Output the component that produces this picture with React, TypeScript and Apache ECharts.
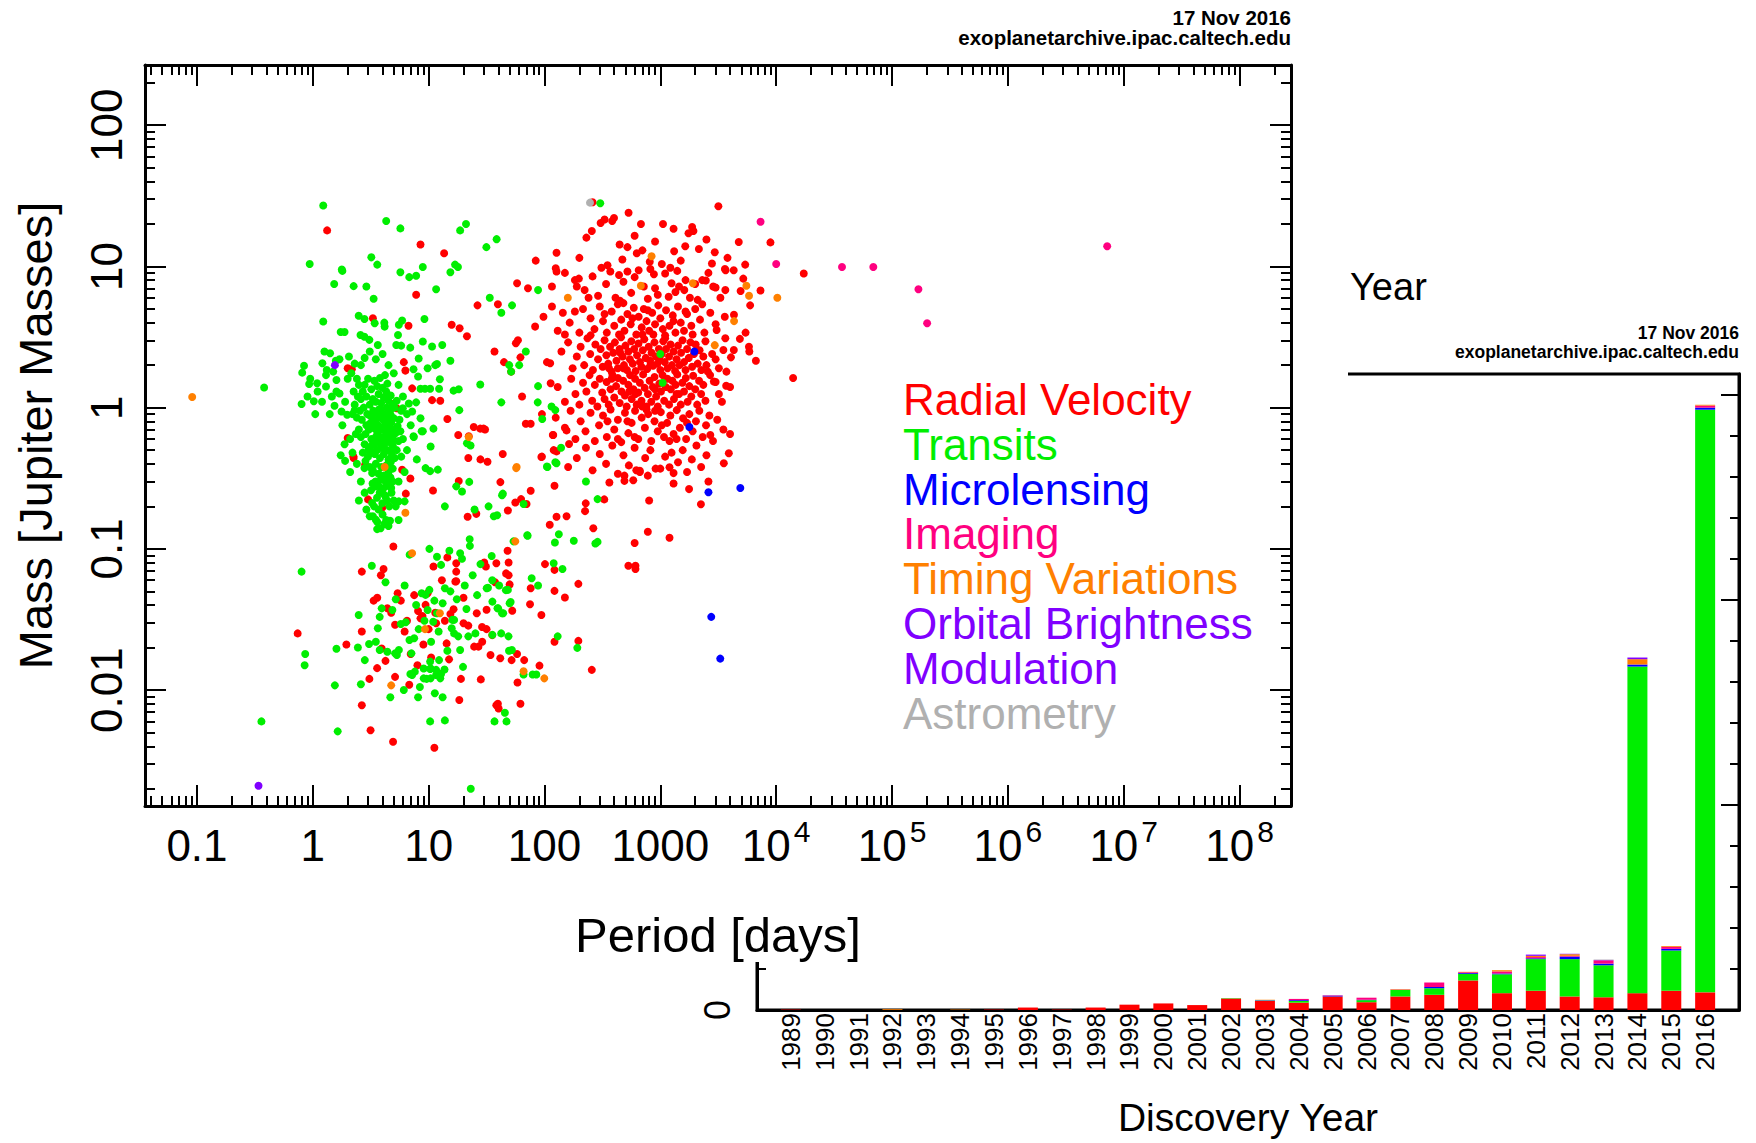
import React, { useEffect, useRef } from "react";
import * as echarts from "echarts";

const FONT = "'Liberation Sans', Arial, sans-serif";

// ---------- colours / method names ----------
const methods = [
  "Radial Velocity",
  "Transits",
  "Microlensing",
  "Imaging",
  "Timing Variations",
  "Orbital Brightness Modulation",
  "Astrometry",
];
const methodColors = ["#ff0000", "#00ee00", "#0000ff", "#ff0080", "#ff8000", "#8000ff", "#b0b0b0"];

// ---------- scatter axes ----------
const xMajorTicks = [0.1, 1, 10, 100, 1000, 1e4, 1e5, 1e6, 1e7, 1e8];
const xTickLabels = ["0.1", "1", "10", "100", "1000", "10^4", "10^5", "10^6", "10^7", "10^8"];
const yMajorTicks = [0.01, 0.1, 1, 10, 100];
const yTickLabels = ["0.01", "0.1", "1", "10", "100"];
const minorMultipliers = [2, 3, 4, 5, 6, 7, 8, 9];
const decades = [0.001, 0.01, 0.1, 1, 10, 100, 1e3, 1e4, 1e5, 1e6, 1e7, 1e8];
const xMin = 0.0356;
const xMax = 2.78e8;
const yMin = 0.00151;
const yMax = 267;

// ---------- scatter data: [period (days), mass (Jupiter masses)] ----------
const rvPoints: number[][] = [
  [260,28.5],[330,21.5],[384,21],[398,22],[532,24],[680,20],[1054,20],[1300,18.5],[1880,19],[1930,17.8],[3170,26.7],[305,20.3],[1750,17.2],[256,17.8],
  [84,11],[127,12.5],[445,14.3],[520,13.7],[626,12.4],[1316,12.8],[1640,13.9],[2150,13.3],[2950,12.6],[2790,10.5],[4750,14.9],[8920,14.8],[5400,10.3],[350,10.2],[810,10.8],[1030,10.4],[230,16],[600,16.5],[900,15],[2500,15.5],[470,11.2],[1500,11],[3800,11.5],[200,11.5],[700,13],
  [125,9.7],[127,9.2],[183,8.0],[198,8.2],[190,7.2],[116,7.2],[222,6.8],[58,7.6],[72,7.0],[370,9.2],[440,8.7],[520,9.2],[650,9.4],[1100,8.9],[1650,8.0],[1610,6.8],[1250,7.6],[1350,6.6],[2300,8.0],[2860,7.2],[3660,9.4],[3610,9.6],[4300,9.4],[7320,6.75],[4930,6.7],[3640,6.8],[3000,7.1],[2470,7.95],[290,6.2],[340,7.5],[410,6.0],[480,7.8],[560,6.5],[600,8.4],[720,7.2],[780,5.9],[880,8.8],[950,6.3],[1180,6.1],[1400,9.3],[1800,6.0],[2000,7.5],[2600,9.0],[3300,6.0],[5200,8.2],[150,9.0],[260,8.5],[310,9.8],[900,7.0],[1450,7.2],[2100,5.8],[17300,8.9],[450,5.7],[240,6.0],[820,9.6],[1220,9.8],
  [116,5.2],[144,4.7],[183,4.8],[83,3.75],[98,4.4],[130,3.5],[165,4.0],[200,3.4],[215,5.0],[250,4.3],[270,3.6],[300,5.2],[320,4.1],[345,3.4],[380,4.8],[400,3.8],[430,5.4],[460,4.2],[490,3.5],[520,4.6],[555,3.9],[590,5.1],[620,3.3],[650,4.4],[690,3.7],[720,5.0],[760,4.1],[800,3.5],[850,4.7],[900,3.9],[960,5.3],[1000,4.3],[1050,3.6],[1120,4.9],[1200,3.8],[1280,4.5],[1350,3.4],[1420,5.2],[1500,4.0],[1600,3.5],[1700,4.6],[1850,3.8],[2000,5.0],[2200,4.2],[2400,3.4],[2700,4.7],[3000,3.9],[4320,4.55],[5440,3.4],[5960,5.3],[3060,3.55],[4860,3.07],[3640,3.1],[440,3.3],[1100,3.25],[1900,3.3],[330,4.6],[575,4.3],[780,4.9],[1300,4.1],[2300,5.4],[3600,4.4],[480,5.5],[250,3.25],[150,3.3],[700,3.3],[1650,4.8],[870,3.3],
  [105,2.1],[112,2.06],[56.6,2.86],[59,3.0],[62,2.27],[37,2.5],[44.7,2.1],[51.5,1.8],
  [140,2.5],[160,2.9],[175,1.9],[190,2.3],[205,2.7],[220,2.0],[235,3.1],[248,2.4],[262,1.85],[275,2.8],[290,2.2],[305,2.6],[318,1.95],[330,3.0],[342,2.35],[355,2.05],[368,2.7],[380,1.8],[392,2.45],[405,2.9],[418,2.15],[430,1.9],[445,2.6],[458,3.15],[472,2.3],[485,2.0],[500,2.75],[515,1.85],[530,2.5],[546,2.2],[562,2.95],[578,2.05],[595,2.6],[612,1.82],[630,2.35],[648,2.85],[667,2.1],[686,1.95],[706,2.55],[727,3.05],[748,2.25],[770,1.88],[793,2.7],[816,2.15],[840,2.45],[865,1.98],[890,2.9],[916,2.3],[943,2.05],[971,2.6],[1000,1.85],[1030,2.4],[1060,2.95],[1090,2.1],[1120,2.6],[1155,1.9],[1190,2.3],[1225,2.8],[1260,2.0],[1300,2.5],[1340,1.82],[1380,2.2],[1420,2.75],[1465,2.0],[1510,2.45],[1555,3.0],[1600,2.1],[1650,1.85],[1700,2.6],[1760,2.25],[1820,2.9],[1880,1.95],[1950,2.4],[2020,2.8],[2100,2.05],[2180,2.55],[2260,1.85],[2350,2.3],[2450,2.95],[2570,1.8],[2800,2.4],[3000,2.2],[3200,1.9],[3500,2.56],[3720,1.8],[4070,2.27],[4310,2.56],[5820,2.7],[5860,2.5],[6680,2.15],[2500,2.0],[1100,3.1],[820,2.0],[450,2.45],[360,1.9],[980,2.2],
  [113,1.49],[64,1.2],[130,1.4],[150,1.1],[170,1.6],[185,1.25],[200,1.05],[215,1.5],[230,1.3],[245,1.7],[258,1.12],[272,1.45],[286,1.02],[300,1.6],[315,1.28],[330,1.15],[344,1.52],[358,1.05],[372,1.35],[386,1.7],[400,1.18],[415,1.42],[430,1.62],[446,1.08],[462,1.3],[478,1.55],[495,1.22],[512,1.02],[530,1.45],[548,1.7],[566,1.15],[585,1.35],[605,1.6],[625,1.05],[645,1.28],[666,1.5],[688,1.12],[710,1.72],[733,1.38],[757,1.02],[782,1.25],[808,1.55],[835,1.1],[862,1.4],[890,1.65],[920,1.2],[950,1.02],[980,1.48],[1012,1.3],[1045,1.7],[1080,1.12],[1115,1.4],[1150,1.6],[1190,1.05],[1230,1.35],[1270,1.55],[1310,1.15],[1355,1.45],[1400,1.72],[1450,1.25],[1500,1.05],[1550,1.5],[1600,1.3],[1660,1.62],[1720,1.1],[1780,1.42],[1850,1.2],[1920,1.68],[2000,1.35],[2080,1.05],[2160,1.55],[2250,1.25],[2350,1.45],[2450,1.12],[2690,1.7],[2900,1.53],[3000,1.52],[3700,1.43],[3200,1.25],[3400,1.1],[4000,1.4],[14000,1.62],[480,1.9],[700,1.02],[380,1.6],[610,1.25],[900,1.35],[1380,1.25],[540,1.3],
  [69,0.77],[76,0.77],[95,0.9],[118,0.64],[125,0.85],[150,0.72],[168,0.95],[185,0.6],[205,0.8],[226,0.68],[250,0.92],[272,0.58],[296,0.75],[320,0.88],[345,0.62],[372,0.97],[400,0.7],[430,0.82],[460,0.57],[495,0.92],[530,0.66],[565,0.78],[605,0.95],[645,0.6],[690,0.85],[735,0.72],[785,0.9],[835,0.58],[890,0.8],[950,0.68],[1010,0.93],[1075,0.62],[1145,0.78],[1220,0.88],[1300,0.65],[1385,0.96],[1475,0.72],[1570,0.84],[1670,0.6],[1780,0.9],[1900,0.68],[2030,0.8],[2170,0.95],[2320,0.62],[2480,0.75],[2650,0.88],[2850,0.58],[3100,0.82],[3500,0.7],[155,0.69],[1380,0.6],[1030,0.75],[760,0.97],[520,0.8],[2700,0.64],[900,0.95],[600,0.62],[1200,0.58],[430,0.6],[350,0.8],[1700,0.78],[4000,0.65],
  [95,0.45],[120,0.5],[127,0.49],[160,0.38],[190,0.44],[228,0.52],[260,0.36],[300,0.47],[340,0.4],[385,0.54],[430,0.34],[480,0.46],[535,0.39],[600,0.52],[665,0.35],[740,0.44],[820,0.5],[910,0.37],[1000,0.37],[1100,0.45],[1200,0.378],[1300,0.344],[1420,0.41],[1560,0.5],[1700,0.35],[1870,0.43],[2050,0.54],[2250,0.38],[2500,0.46],[3530,0.404],[3900,0.476],[665,0.357],[620,0.36],[490,0.33],[780,0.33],[1250,0.48],
  [122,0.28],[227,0.21],[224,0.185],[328,0.224],[363,0.295],[490,0.303],[584,0.306],[1770,0.265],[2240,0.207],[1300,0.29],[800,0.22],[2600,0.3],[70,0.208],[76,0.258],[56,0.213],[48.3,0.187],[62.8,0.225],[41.6,0.297],
  [111,0.148],[127,0.169],[155,0.17],[264,0.14],[780,0.132],[1200,0.12],[600,0.11],[21.7,0.169],[25.8,0.177],[530,0.076],[610,0.076],[610,0.072],
  [1.33,18],[8.5,14.3],[13.6,12.4],[7.8,6.3],[26.4,5.3],[39.6,5.4],[3.3,4.3],[6.7,3.8],[6.1,2.1],[6.3,1.83],[7.2,1.37],[10.7,1.13],[12.6,1.12],[14.5,0.83],[15.8,3.86],[18.5,3.65],[21.4,3.2],[2.0,1.9],[2.17,1.87],[2.0,0.61],[2.25,0.44],[4.9,1.06],[5.3,0.99],[18,0.64],[24.5,0.73],[27.9,0.71],[30.7,0.7],[22,0.44],[28,0.43],[43.6,0.47],
  [2.24,0.452],[2.83,0.394],[3.0,0.224],[3.98,0.196],[5.9,0.363],[6.95,0.315],[6.35,0.246],[10.9,0.259],[22.2,0.627],[29.8,0.71],[32.2,0.414],[18.2,0.302],[94,0.447],[119,0.64],[163,0.553],
  [2.65,0.069],[4.08,0.072],[3.87,0.065],[4.96,0.104],[14.5,0.087],[17.3,0.079],[17.3,0.069],[17.3,0.059],[30.2,0.08],[31.2,0.075],[38.4,0.079],[49,0.08],[46.6,0.067],[48,0.097],[101,0.078],[122,0.071],[122,0.0504],[150,0.0452],[196,0.0565],[76,0.0526],[75,0.0405],[94,0.034],[37.4,0.058],[50,0.056],[49,0.065],[31.6,0.037],[28.9,0.028],[31.6,0.027],[35.4,0.0245],[26.9,0.0203],[52,0.0163],[66.8,0.0163],[90.5,0.0149],[58.5,0.0113],[62,0.008],[39.6,0.008],[40.2,0.0074],[256,0.0139],[122,0.022],[196,0.0223],[0.74,0.0252],[1.95,0.021],[2.65,0.026],[2.65,0.0078],[3.15,0.0052],[4.93,0.0043],[11.2,0.0039],[18.4,0.0085],[28.2,0.0119],[41.5,0.0168],[38.4,0.0078],[3.35,0.043],[3.93,0.0197],[3.59,0.0143],[3.08,0.012],[4.24,0.0161],[5.13,0.0124],[6.8,0.0109],[4.75,0.0353],[5.4,0.0485],[5.75,0.043],[5.13,0.029],[8.1,0.0363],[8.5,0.0322],[8.85,0.0334],[9.4,0.0401],[9.8,0.0485],[11.4,0.0353],[11.6,0.0297],[13.8,0.031],[15.4,0.0346],[14.3,0.0214],[16.4,0.0373],[17,0.0587],[20,0.0297],[22,0.0286],[24.7,0.0203],[29,0.022],[34.2,0.0177],[52.7,0.0365],[58,0.018],
  [3.6,0.045],[4.4,0.038],[6.2,0.026],[7.0,0.018],[8.0,0.015],[9.0,0.021],[10.5,0.017],[12.5,0.013],[6.5,0.031],[7.5,0.047],[10,0.027],[15,0.0165],[19,0.012],[20,0.045],[26,0.035],[13,0.06],[11,0.075],
];

const transitPoints: number[][] = [
  [1.23,27],[4.3,21],[5.7,18.6],[18.7,18],[21,20],[38.6,15.6],[31.5,13.7],[0.94,10.4],[3.2,11.6],[3.6,10.3],[1.78,9.5],[1.8,9.3],[5.7,9.1],[6.8,8.4],[7.8,8.6],[8.9,9.9],[15.4,9.1],[16.9,10.3],[17.9,9.9],[1.53,7.5],[2.25,7.25],[2.9,7.2],[11.6,6.9],[3.35,5.9],[33.7,6.0],[52.5,5.3],[42.4,4.7],[88,6.8],[303,28],[1000,2.4],[1046,1.5],[0.38,1.39],
  [1.23,4.07],[1.74,3.43],[1.88,3.43],[2.49,4.47],[2.79,4.24],[2.58,3.27],[2.79,3.18],[3.08,3.02],[3.42,3.96],[4.14,4.0],[4.17,3.75],[3.64,2.78],[5.53,3.86],[5.9,4.14],[5.44,3.27],[5.25,2.78],[5.79,2.75],[6.94,2.66],[9.2,4.24],[8.9,2.94],[10.7,2.71],[13.1,2.78],[15.4,2.15],[12.5,1.59],[12.3,1.36],[10.3,1.36],[9.3,1.36],[8.5,1.36],[8.2,2.23],[7.4,1.87],[8.1,1.66],[9.8,1.9],[11.4,2.0],[11.8,2.04],[16.4,1.32],[18.2,1.35],[27.9,1.46],[69,2.5],[49.6,2.0],[51.5,1.8],[60.5,2.0],[42.4,1.09],[88,1.42],[87.4,1.09],[95.6,0.83],[115,1.02],[124,0.96],[139,0.52],[124,0.41],[106,0.38],[18.4,0.96],[23,0.54],[21.4,0.56],[11,0.71],[8.9,0.68],[7.45,0.62],[7.9,0.43],[7.8,1.09],[7.2,0.94],[5.98,0.99],[8.5,0.84],[6.74,1.07],
  [0.8,1.06],[1.02,1.11],[0.93,1.47],[0.81,1.77],[0.84,1.98],[1.21,2.06],[1.32,1.85],[1.26,2.5],[1.41,2.43],[1.58,2.15],[1.09,1.49],[1.3,1.41],[1.46,1.2],[1.7,1.26],[1.6,1.57],[1.54,1.03],[1.77,0.94],[1.98,0.89],[2.3,0.96],[1.74,0.46],[1.88,0.55],
  [3.0,0.45],[3.1,0.52],[3.2,0.6],[3.3,0.48],[3.4,0.55],[3.5,0.62],[3.6,0.5],[3.7,0.58],[3.8,0.44],[3.9,0.53],[4.0,0.61],[4.1,0.47],[4.2,0.56],[4.3,0.64],[4.4,0.5],[4.5,0.43],[4.6,0.57],[4.7,0.49],[4.8,0.66],[4.9,0.54],
  [3.05,0.7],[3.15,0.78],[3.25,0.86],[3.35,0.72],[3.45,0.8],[3.55,0.92],[3.65,0.75],[3.75,0.85],[3.85,0.98],[3.95,0.7],[4.05,0.82],[4.15,0.9],[4.25,0.76],[4.35,1.0],[4.45,0.72],[4.55,0.88],[4.65,0.95],[4.75,0.78],[4.85,0.7],[5.0,0.84],
  [2.8,0.55],[2.85,0.65],[2.9,0.75],[2.95,0.9],[2.7,0.48],[2.6,0.62],[2.65,0.82],[2.75,1.0],[2.5,0.7],[2.55,0.95],
  [3.1,1.05],[3.3,1.15],[3.5,1.1],[3.7,1.25],[3.9,1.08],[4.1,1.18],[4.3,1.3],[4.5,1.12],[4.7,1.22],[4.9,1.05],[2.9,1.2],[3.2,1.35],[3.6,1.42],[4.0,1.38],[4.4,1.48],[2.7,1.3],[3.4,1.55],[3.8,1.62],[4.2,1.7],[3.0,1.6],
  [3.1,0.38],[3.3,0.36],[3.5,0.4],[3.7,0.34],[3.9,0.38],[4.1,0.33],[4.3,0.39],[4.5,0.35],[4.7,0.41],[4.9,0.37],[5.1,0.44],[5.3,0.5],[5.5,0.58],[5.2,0.66],[5.4,0.74],[5.6,0.82],[5.8,0.95],[5.1,1.0],[5.3,1.12],[5.7,0.68],
  [2.4,0.85],[2.3,1.05],[2.45,1.2],[2.35,0.65],[2.2,0.9],[2.25,1.3],[2.5,1.45],[2.6,1.15],[2.8,1.45],[2.85,0.42],
  [3.02,0.5],[3.22,0.54],[3.42,0.47],[3.62,0.66],[3.82,0.62],[4.02,0.52],[4.22,0.68],[4.42,0.6],[4.62,0.66],[4.82,0.46],[3.12,0.88],[3.32,0.95],[3.52,0.7],[3.72,0.97],[3.92,0.88],[4.12,0.74],[4.32,0.84],[4.52,0.8],[4.72,0.88],[4.92,0.6],
  [3.48,0.3],[3.68,0.28],[3.88,0.31],[4.08,0.27],[4.28,0.3],[4.48,0.28],[3.28,0.29],[4.68,0.32],[3.78,0.25],[4.18,0.24],[4.38,0.22],[3.58,0.23],[3.98,0.21],[4.58,0.2],[3.38,0.2],[4.78,0.25],[3.18,0.26],[4.88,0.3],[5.0,0.22],[3.7,0.19],
  [4.0,0.175],[4.3,0.16],[3.6,0.155],[4.5,0.145],[3.85,0.14],[3.3,0.17],[4.15,0.15],
  [2.79,0.373],[3.25,0.344],[4.08,0.309],[3.5,0.277],[3.93,0.255],[4.75,0.27],[4.24,0.235],[5.53,0.217],[6.2,0.217],[3.25,0.211],[3.5,0.161],[4.64,0.158],[3.59,0.138],
  [1.2,1.1],[1.4,0.9],[1.6,1.3],[1.8,0.75],[2.0,1.6],[1.9,1.1],[2.1,0.6],[1.5,1.8],[1.7,2.2],[2.05,2.3],[2.15,1.75],[2.3,2.05],[2.4,1.6],[1.3,1.7],[1.1,1.3],[0.95,1.6],[0.9,1.2],[1.05,0.9],[2.6,2.0],[2.8,2.25],[3.1,2.5],[3.5,2.2],[4.0,2.4],[4.5,2.0],[5.0,1.75],[5.5,1.45],[6.0,1.2],[6.5,0.9],[6.0,0.6],[5.8,0.45],[6.5,0.5],[7.0,0.75],[1.9,0.42],[2.2,0.48],[2.1,0.35],[2.4,0.4],[2.6,0.3],[2.8,0.25],[2.5,0.22],[5.5,0.3],[6.2,0.35],[5.2,0.2],[2.9,0.19],[3.1,0.17],[5.5,0.16],
  [7.4,0.627],[8.7,0.68],[10.4,0.531],[10.3,0.355],[9.4,0.373],[12.0,0.364],[13.8,0.2],[17.3,0.277],[19.4,0.255],[22.4,0.298],[24.9,0.19],[32.9,0.2],[36.5,0.17],[39,0.173],[43,0.24],[43.7,0.246],[66,0.208],[71,0.125],[105,0.383],[127,0.404],[228,0.3],[287,0.225],[275,0.109],[287,0.112],[179,0.114],[123,0.111],[133,0.127],[54,0.113],[22.6,0.117],[22.7,0.105],
  [0.8,0.069],[3.23,0.076],[4.24,0.058],[6.85,0.091],[10.15,0.1],[11.8,0.088],[12.8,0.077],[15.1,0.097],[18.7,0.093],[19.4,0.085],[71.5,0.124],[120,0.079],[143,0.072],[35,0.089],[32.5,0.053],[35.4,0.06],[40.6,0.055],[46.4,0.051],[88,0.055],[77.5,0.062],[39.3,0.038],[44,0.035],[51,0.042],[49.4,0.019],[66,0.0129],[79,0.0129],[85,0.0129],[45.5,0.0069],[37,0.006],[47,0.006],[192,0.0199],[130,0.024],
  [2.49,0.034],[3.78,0.033],[3.93,0.0379],[4.86,0.0369],[5.75,0.0294],[6.34,0.0302],[6.83,0.0226],[7.5,0.0233],[7.1,0.0182],[8.7,0.0485],[9.4,0.0472],[10.15,0.0512],[9.8,0.0369],[10.95,0.0305],[11.8,0.035],[13.2,0.0412],[13.8,0.0526],[15.4,0.05],[16,0.0314],[16.6,0.0252],[18,0.024],[18.7,0.0192],[21.2,0.0375],[22,0.024],[25.3,0.0252],[26.2,0.047],[31.7,0.0526],[35.5,0.0423],[39.8,0.0379],[43,0.035],[48.3,0.0512],[50,0.0412],[35.5,0.0246],[42.3,0.0252],[48.9,0.024],[52.3,0.0192],[2.45,0.02],[2.81,0.0163],[3.06,0.0212],[3.5,0.022],[1.6,0.0196],[1.55,0.0108],[2.6,0.011],[4.67,0.0089],[6.1,0.01],[8.1,0.0089],[10.3,0.006],[13.8,0.0061],[12.6,0.0121],[13.2,0.0089],[10.4,0.0121],[9.06,0.0121],[7.2,0.0128],[7.6,0.0135],[5.53,0.0192],[5.13,0.0182],[5.32,0.0177],[6.95,0.013],[12.8,0.013],[11.6,0.0139],[9.06,0.0142],[11.6,0.0128],[3.64,0.0274],[3.78,0.0192],[4.4,0.0187],[16.6,0.0314],[15.8,0.0274],[10.3,0.0159],[12.3,0.0163],[10.3,0.0141],[10.4,0.0142],[13.7,0.014],[19.8,0.0146],[0.86,0.018],[0.85,0.015],[0.36,0.006],[1.64,0.0051],[23.1,0.002],
  [8.2,0.027],[9.2,0.031],[10.5,0.022],[11.2,0.043],[7.8,0.04],[12.2,0.026],[14.5,0.019],[9.6,0.012],[11.3,0.0095],[8.4,0.0105],[17.5,0.044],[20.5,0.055],[24,0.065],[28,0.078],[6.2,0.055],[5.2,0.044],
];

const microlensingPoints: number[][] = [[1967,2.5],[1780,0.73],[2600,0.252],[4900,0.27],[2750,0.033],[3290,0.0167]];
const imagingPoints: number[][] = [[7330,20.7],[10000,10.4],[37000,9.9],[68900,9.9],[169000,6.9],[201000,3.96],[7.2e6,13.9]];
const timingPoints: number[][] = [
  [0.091,1.19],[159,6.0],[840,11.8],[679,7.3],[1906,7.6],[2950,2.77],[5530,7.3],[5830,6.2],[10230,6.0],[4330,4.1],
  [22.2,0.62],[57.5,0.38],[4.17,0.38],[6.3,0.18],[57,0.373],[7.2,0.093],[56,0.113],[12.5,0.035],[9.3,0.027],[4.75,0.0108],[66,0.0136],[99.6,0.0121],
];
const obmPoints: number[][] = [[1.55,2.0],[0.34,0.0021]];
const astrometryPoints: number[][] = [[247,28.3]];

// ---------- bar chart data (discoveries per year, by method) ----------
const barYears = [1989,1990,1991,1992,1993,1994,1995,1996,1997,1998,1999,2000,2001,2002,2003,2004,2005,2006,2007,2008,2009,2010,2011,2012,2013,2014,2015,2016];
const barRV =      [1,0,0,0,0,0,1,6,1,6,13,16,12,28,22,18,33,19,33,37,72,41,47,33,31,41,47,43];
const barTransit = [0,0,0,0,0,0,0,0,0,0,0,0,0,1,1,4,0,5,16,16,16,46,77,91,78,796,98,1420];
const barMicro =   [0,0,0,0,0,0,0,0,0,0,0,0,0,0,1,2,2,1,0,3,2,2,2,6,4,5,4,5];
const barImaging = [0,0,0,0,0,0,0,0,0,0,0,0,0,0,0,3,1,5,1,11,2,5,3,2,8,0,5,5];
const barTiming =  [0,0,0,2,0,1,0,0,0,0,0,0,0,0,1,0,0,0,1,0,1,3,3,4,0,13,2,2];
const barOBM =     [0,0,0,0,0,0,0,0,0,0,0,0,0,0,0,0,0,0,0,0,0,0,3,1,1,4,0,0];
const barAstro =   [0,0,0,0,0,0,0,0,0,0,0,0,0,0,0,0,0,0,0,0,0,0,0,0,1,0,0,0];
const barYMax = 1550;

const headerDate = "17 Nov 2016";
const headerSite = "exoplanetarchive.ipac.caltech.edu";

export default function App() {
  const ref = useRef<HTMLDivElement>(null);

  useEffect(() => {
    if (!ref.current) return;
    const chart = echarts.init(ref.current, undefined, { renderer: "svg" });

    const minorTicks = decades.flatMap((d) => minorMultipliers.map((m) => m * d));
    const black = "#000";

    const xLabelFmt = (v: number) => {
      const i = xMajorTicks.findIndex((t) => Math.abs(Math.log10(t / v)) < 1e-6);
      if (i < 0) return "";
      const parts = xTickLabels[i].split("^");
      return parts.length === 2 ? `{b|${parts[0]}}{s|${parts[1]}}` : `{b|${parts[0]}}`;
    };
    const yLabelFmt = (v: number) => {
      const i = yMajorTicks.findIndex((t) => Math.abs(Math.log10(t / v)) < 1e-6);
      return i < 0 ? "" : yTickLabels[i];
    };

    const logAxisBase = (dim: "x" | "y") => ({
      type: "log" as const,
      gridIndex: 0,
      logBase: 10,
      min: dim === "x" ? xMin : yMin,
      max: dim === "x" ? xMax : yMax,
      splitLine: { show: false },
      minorTick: { show: false },
      z: 5,
    });
    const majorTick = (vals: number[]) => ({ show: true, inside: true, length: 21, customValues: vals, lineStyle: { color: black, width: 2 } });
    const minorTickOpt = { show: true, inside: true, length: 10, customValues: minorTicks, lineStyle: { color: black, width: 2 } };

    // category axis for the bar chart, padded by one empty slot at each end
    const barCategories = [String(barYears[0] - 1), ...barYears.map(String), String(barYears[barYears.length - 1] + 1)];

    const xAxes: any[] = [
      {
        ...logAxisBase("x"), position: "bottom",
        axisLine: { show: true, lineStyle: { color: black, width: 3 } },
        axisTick: majorTick(xMajorTicks),
        axisLabel: {
          show: true, customValues: xMajorTicks, formatter: xLabelFmt, margin: 10, color: black,
          rich: {
            b: { fontSize: 44, lineHeight: 58, fontFamily: FONT, color: black },
            s: { fontSize: 30, lineHeight: 22, verticalAlign: "top", fontFamily: FONT, color: black, padding: [0, 0, 0, 3] },
          },
        },
        name: "Period [days]", nameLocation: "middle", nameGap: 104,
        nameTextStyle: { fontSize: 49, fontFamily: FONT, color: black },
      },
      { ...logAxisBase("x"), position: "bottom", axisLine: { show: false }, axisTick: minorTickOpt, axisLabel: { show: false } },
      { ...logAxisBase("x"), position: "top", axisLine: { show: true, lineStyle: { color: black, width: 3 } }, axisTick: majorTick(xMajorTicks), axisLabel: { show: false } },
      { ...logAxisBase("x"), position: "top", axisLine: { show: false }, axisTick: minorTickOpt, axisLabel: { show: false } },
      {
        type: "category", gridIndex: 1, position: "bottom", data: barCategories, boundaryGap: false, z: 0,
        axisLine: { show: true, lineStyle: { color: black, width: 3 } },
        axisTick: { show: false }, splitLine: { show: false },
        axisLabel: {
          interval: 0, rotate: 90, fontSize: 26, fontFamily: FONT, color: black, margin: 3,
          formatter: (v: string) => (barYears.includes(Number(v)) ? v : ""),
        },
        name: "Discovery Year", nameLocation: "middle", nameGap: 88,
        nameTextStyle: { fontSize: 39, fontFamily: FONT, color: black },
      },
    ];

    const barY = (pos: "left" | "right") => ({
      type: "value", gridIndex: 1, position: pos, min: 0, max: barYMax, interval: 500, z: 0,
      axisLine: { show: true, lineStyle: { color: black, width: 3 } },
      axisTick: { show: true, inside: true, length: 18, lineStyle: { color: black, width: 2 } },
      minorTick: { show: true, splitNumber: 5, length: 9, lineStyle: { color: black, width: 2 } },
      splitLine: { show: false }, minorSplitLine: { show: false },
      axisLabel: pos === "left"
        ? { show: true, rotate: 90, fontSize: 36, fontFamily: FONT, color: black, margin: 22 }
        : { show: false },
    });

    const yAxes: any[] = [
      {
        ...logAxisBase("y"), position: "left",
        axisLine: { show: true, lineStyle: { color: black, width: 3 } },
        axisTick: majorTick(yMajorTicks),
        axisLabel: { show: true, customValues: yMajorTicks, formatter: yLabelFmt, rotate: 90, margin: 17, fontSize: 44, fontFamily: FONT, color: black },
        name: "Mass [Jupiter Masses]", nameLocation: "middle", nameGap: 86,
        nameTextStyle: { fontSize: 47, fontFamily: FONT, color: black },
      },
      { ...logAxisBase("y"), position: "left", axisLine: { show: false }, axisTick: minorTickOpt, axisLabel: { show: false } },
      { ...logAxisBase("y"), position: "right", axisLine: { show: true, lineStyle: { color: black, width: 3 } }, axisTick: majorTick(yMajorTicks), axisLabel: { show: false } },
      { ...logAxisBase("y"), position: "right", axisLine: { show: false }, axisTick: minorTickOpt, axisLabel: { show: false } },
      barY("left"),
      barY("right"),
    ];

    const scatterSets = [rvPoints, transitPoints, microlensingPoints, imagingPoints, timingPoints, obmPoints, astrometryPoints];
    const barSets = [barRV, barTransit, barMicro, barImaging, barTiming, barOBM, barAstro];

    const scatterSeries = scatterSets.map((pts, i) => ({
      type: "scatter", name: methods[i], xAxisIndex: 0, yAxisIndex: 0, z: 6 + i * 0.01,
      symbol: "circle", symbolSize: 8, data: pts,
      itemStyle: { color: methodColors[i], opacity: 1 },
      emphasis: { disabled: true }, silent: true,
    }));
    const barSeries = barSets.map((vals, i) => ({
      type: "bar", name: methods[i], xAxisIndex: 4, yAxisIndex: 4, stack: "total", z: 1,
      barWidth: 20, data: barYears.map((y, k) => [String(y), vals[k]]),
      itemStyle: { color: methodColors[i] },
      emphasis: { disabled: true }, silent: true,
    }));

    const titleStyle = { fontSize: 20.5, fontWeight: "bold", fontFamily: FONT, color: black };
    const titleStyle2 = { fontSize: 17.5, fontWeight: "bold", fontFamily: FONT, color: black };

    chart.setOption({
      animation: false,
      backgroundColor: "#fff",
      textStyle: { fontFamily: FONT },
      title: [
        { text: headerDate, right: 465, top: 7, padding: 0, textStyle: titleStyle, z: 8 },
        { text: headerSite, right: 465, top: 27, padding: 0, textStyle: titleStyle, z: 8 },
        { text: "Year", left: 1350, top: 268, padding: 0, textStyle: { fontSize: 38, fontWeight: "normal", fontFamily: FONT, color: black }, z: 8 },
        { text: headerDate, right: 17, top: 324, padding: 0, textStyle: titleStyle2, z: 8 },
        { text: headerSite, right: 17, top: 343, padding: 0, textStyle: titleStyle2, z: 8 },
      ],
      legend: {
        orient: "vertical", left: 893, top: 372, itemGap: 0, itemWidth: 0, itemHeight: 10,
        icon: "none", selectedMode: false, z: 8,
        formatter: (n: string) => (n === "Orbital Brightness Modulation" ? "Orbital Brightness\nModulation" : n),
        textStyle: { fontSize: 44, lineHeight: 44.8, fontFamily: FONT },
        data: methods.map((m, i) => ({ name: m, textStyle: { color: methodColors[i] } })),
      },
      grid: [
        { left: 145, right: 465, top: 65, bottom: 337, containLabel: false, show: false, z: 5 },
        { left: 757, right: 17, top: 374, bottom: 133, containLabel: false, show: true, borderColor: black, borderWidth: 3, backgroundColor: "transparent", z: 0 },
      ],
      xAxis: xAxes,
      yAxis: yAxes,
      graphic: [
        { type: "rect", z: 3, silent: true, shape: { x: 0, y: 0, width: 1348, height: 962 }, style: { fill: "#ffffff" } },
      ],
      series: [...barSeries, ...scatterSeries],
    });

    return () => chart.dispose();
  }, []);

  return <div ref={ref} style={{ position: "absolute", left: 0, top: 0, width: 1756, height: 1143 }} />;
}
